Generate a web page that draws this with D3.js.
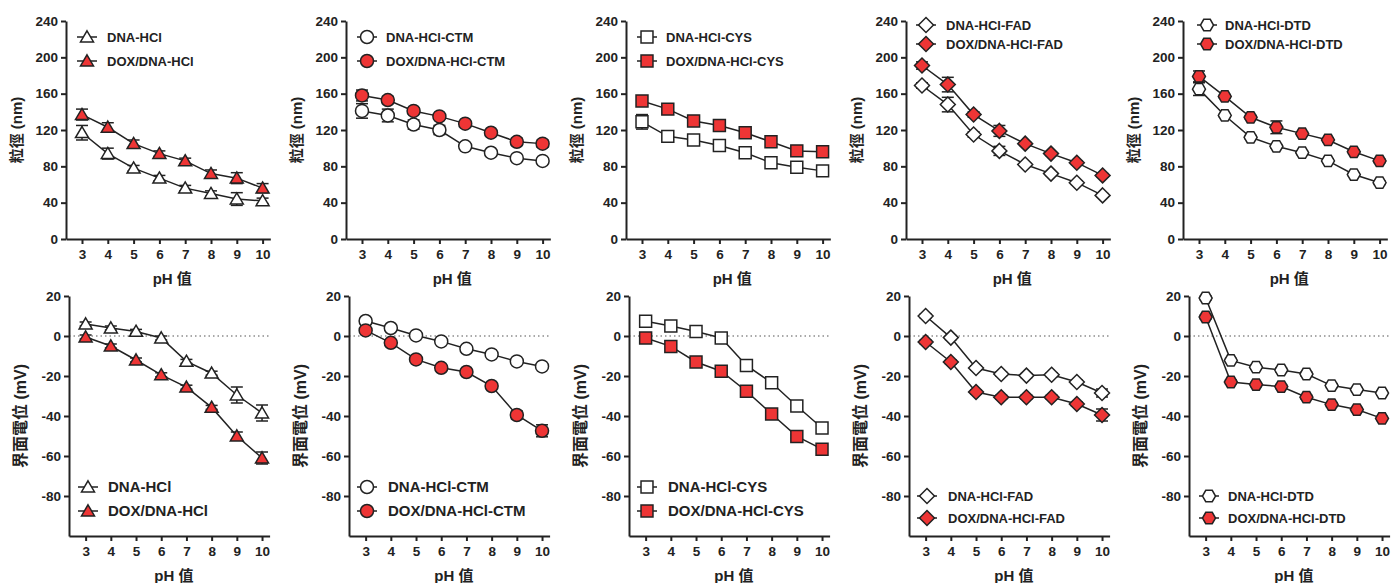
<!DOCTYPE html>
<html>
<head>
<meta charset="utf-8">
<script src="https://cdn.jsdelivr.net/npm/d3@7"></script>
<style>
body { margin: 0; background: #fff; }
svg text { font-family: "Liberation Sans", Arial, "Noto Sans CJK TC", sans-serif; font-weight: bold; fill: #222; }
</style>
</head>
<body>
<script>
var pH = [3, 4, 5, 6, 7, 8, 9, 10];
var sizeTicks = [0, 40, 80, 120, 160, 200, 240];
var zetaTicks = [20, 0, -20, -40, -60, -80];

// particle size (nm), mean and error
var size_HCl       = [117, 94, 78, 67, 56, 50, 44, 42];
var size_HCl_sd    = [8, 6, 3, 3, 3, 3, 7, 3];
var size_DOX_HCl   = [137, 123, 105, 94, 86, 72, 67, 56];
var size_DOX_HCl_sd= [6, 5, 4, 3, 3, 4, 6, 5];
var size_CTM       = [141, 136, 126, 120, 102, 95, 89, 86];
var size_CTM_sd    = [8, 7, 5, 5, 2, 3, 2, 2];
var size_DOX_CTM   = [158, 153, 141, 135, 127, 117, 107, 105];
var size_DOX_CTM_sd= [6, 4, 3, 3, 2, 3, 4, 4];
var size_CYS       = [129, 113, 109, 103, 95, 84, 79, 75];
var size_CYS_sd    = [8, 5, 2, 2, 2, 2, 2, 2];
var size_DOX_CYS   = [152, 143, 130, 125, 117, 107, 97, 96];
var size_DOX_CYS_sd= [4, 2, 2, 2, 2, 2, 4, 3];
var size_FAD       = [169, 148, 115, 97, 82, 72, 62, 48];
var size_FAD_sd    = [3, 8, 3, 5, 2, 2, 2, 2];
var size_DOX_FAD   = [191, 170, 137, 119, 105, 94, 84, 70];
var size_DOX_FAD_sd= [4, 8, 3, 6, 2, 2, 2, 2];
var size_DTD       = [165, 136, 112, 102, 95, 86, 71, 62];
var size_DTD_sd    = [7, 2, 2, 2, 2, 2, 2, 2];
var size_DOX_DTD   = [179, 157, 134, 123, 116, 109, 96, 86];
var size_DOX_DTD_sd= [6, 2, 2, 7, 2, 2, 2, 2];

// zeta potential (mV), mean and error
var zeta_HCl       = [6, 4, 2.3, -1, -12.7, -18.6, -29.5, -38.5];
var zeta_HCl_sd    = [1, 1, 1, 1, 1, 1, 4, 4];
var zeta_DOX_HCl   = [-0.5, -5, -12, -19.4, -25.6, -35.7, -50, -61];
var zeta_DOX_HCl_sd= [1, 1, 1, 1, 1, 1, 2, 3];
var zeta_CTM       = [7.5, 4, 0.3, -2.7, -6.4, -9.2, -12.7, -15.2];
var zeta_CTM_sd    = [1, 1, 1, 1, 1, 1, 1, 1];
var zeta_DOX_CTM   = [2.8, -3.4, -11.7, -15.9, -18, -25, -39.5, -47.4];
var zeta_DOX_CTM_sd= [1, 1, 1, 1, 1, 1, 2, 3];
var zeta_CYS       = [7.4, 5, 2.3, -1, -14.7, -23.4, -35, -46];
var zeta_CYS_sd    = [1, 1, 1, 1, 1, 1, 1, 1];
var zeta_DOX_CYS   = [-1, -5.2, -13, -17.6, -27.6, -39, -50.2, -56.6];
var zeta_DOX_CYS_sd= [1, 1, 1, 1, 1, 1, 1, 1];
var zeta_FAD       = [10, -0.8, -16, -19, -19.8, -19.4, -23, -28.5];
var zeta_FAD_sd    = [1, 1, 1, 1, 1, 1, 1, 2];
var zeta_DOX_FAD   = [-3, -13, -28, -30.6, -30.6, -30.6, -34, -39.5];
var zeta_DOX_FAD_sd= [1, 1, 1, 1, 1, 1, 1, 3];
var zeta_DTD       = [19, -12.2, -15.6, -17, -19, -24.8, -26.8, -28.5];
var zeta_DTD_sd    = [1, 1, 1, 1, 1, 1, 1, 1];
var zeta_DOX_DTD   = [9.5, -23, -24.3, -25.3, -30.6, -34.3, -36.8, -41.2];
var zeta_DOX_DTD_sd= [1, 1, 1, 1, 1, 1, 1, 1];

var labels = [
  ["DNA-HCl", "DOX/DNA-HCl"],
  ["DNA-HCl-CTM", "DOX/DNA-HCl-CTM"],
  ["DNA-HCl-CYS", "DOX/DNA-HCl-CYS"],
  ["DNA-HCl-FAD", "DOX/DNA-HCl-FAD"],
  ["DNA-HCl-DTD", "DOX/DNA-HCl-DTD"]
];
var sizeData = [
  [[size_HCl, size_HCl_sd], [size_DOX_HCl, size_DOX_HCl_sd]],
  [[size_CTM, size_CTM_sd], [size_DOX_CTM, size_DOX_CTM_sd]],
  [[size_CYS, size_CYS_sd], [size_DOX_CYS, size_DOX_CYS_sd]],
  [[size_FAD, size_FAD_sd], [size_DOX_FAD, size_DOX_FAD_sd]],
  [[size_DTD, size_DTD_sd], [size_DOX_DTD, size_DOX_DTD_sd]]
];
var zetaData = [
  [[zeta_HCl, zeta_HCl_sd], [zeta_DOX_HCl, zeta_DOX_HCl_sd]],
  [[zeta_CTM, zeta_CTM_sd], [zeta_DOX_CTM, zeta_DOX_CTM_sd]],
  [[zeta_CYS, zeta_CYS_sd], [zeta_DOX_CYS, zeta_DOX_CYS_sd]],
  [[zeta_FAD, zeta_FAD_sd], [zeta_DOX_FAD, zeta_DOX_FAD_sd]],
  [[zeta_DTD, zeta_DTD_sd], [zeta_DOX_DTD, zeta_DOX_DTD_sd]]
];

var w = 1391, h = 583;
var ink = "#222", red = "#ee3535";
var svg = d3.select("body").append("svg").attr("width", w).attr("height", h);

// marker shapes, r = half width
var shapes = [
  function(r) { return "M0," + (-r * 0.95) + "L" + r + "," + (r * 0.75) + "L" + (-r) + "," + (r * 0.75) + "Z"; },
  function(r) { return "M" + r + ",0A" + r + "," + r + " 0 1,1 " + (-r) + ",0A" + r + "," + r + " 0 1,1 " + r + ",0Z"; },
  function(r) { r = r * 0.92; return "M" + (-r) + "," + (-r) + "H" + r + "V" + r + "H" + (-r) + "Z"; },
  function(r) { r = r * 1.15; return "M0," + (-r) + "L" + r + ",0L0," + r + "L" + (-r) + ",0Z"; },
  function(r) {
    var p = d3.range(6).map(function(i) { var a = Math.PI / 3 * i; return [r * Math.cos(a), r * Math.sin(a)]; });
    return "M" + p.join("L") + "Z";
  }
];

var topX = [66, 346, 626, 906, 1183];
var botX = [69, 349, 629, 909, 1189];
var topLeg = [[87, 107, 37, 61], [367, 386, 37, 61], [647, 666, 37, 61], [926, 946, 25, 44], [1207, 1225, 25, 44]];
var botLeg = [[88, 108, 487, 511, 15], [367, 388, 487, 511, 15], [647, 668, 487, 511, 15], [927, 948, 496, 518, 13], [1209, 1228, 496, 518, 13]];

function panel(k, ax, yTop, yBot, domainY, ticks, series, title, titleSize, pxPerUnit, xStart, zeroLine, leg, legSize) {
  var x = d3.scaleLinear().domain([xStart, 10.3]).range([ax, ax + (10.3 - xStart) * pxPerUnit]);
  var y = d3.scaleLinear().domain(domainY).range([yBot, yTop]);
  var g = svg.append("g");

  if (zeroLine) {
    g.append("line").attr("x1", ax).attr("x2", x.range()[1]).attr("y1", y(0)).attr("y2", y(0))
      .attr("stroke", "#555").attr("stroke-width", 1.2).attr("stroke-dasharray", "1.5,3");
  }

  var yAxis = g.append("g").attr("transform", "translate(" + ax + ",0)")
    .call(d3.axisLeft(y).tickValues(ticks).tickFormat(function(d) { return String(d); })
      .tickSize(5).tickSizeOuter(0).tickPadding(3));
  var xAxis = g.append("g").attr("transform", "translate(0," + yBot + ")")
    .call(d3.axisBottom(x).tickValues(pH).tickFormat(function(d) { return String(d); })
      .tickSize(5).tickSizeOuter(0).tickPadding(5));
  [yAxis, xAxis].forEach(function(a) {
    a.select(".domain").attr("stroke", ink).attr("stroke-width", 2);
    a.selectAll(".tick line").attr("stroke", ink).attr("stroke-width", 2);
    a.selectAll(".tick text").attr("font-size", 13.5).style("fill", ink);
  });

  g.append("text").attr("transform", "translate(" + (ax - 49) + "," + ((yTop + yBot) / 2) + ") rotate(-90)")
    .attr("text-anchor", "middle").attr("dy", "0.35em").attr("font-size", titleSize).text(title);
  g.append("text").attr("x", (x(3) + x(10)) / 2).attr("y", yBot + 45)
    .attr("text-anchor", "middle").attr("font-size", 15).text("pH 值");

  var line = d3.line().x(function(d) { return x(d[0]); }).y(function(d) { return y(d[1]); });
  series.forEach(function(s, j) {
    var pts = pH.map(function(p, i) { return [p, s[0][i], s[1][i]]; });
    var sg = g.append("g");
    sg.append("path").attr("d", line(pts)).attr("fill", "none").attr("stroke", ink).attr("stroke-width", 1.5);
    var eb = sg.selectAll(".eb").data(pts).enter().append("g");
    eb.append("line").attr("x1", function(d) { return x(d[0]); }).attr("x2", function(d) { return x(d[0]); })
      .attr("y1", function(d) { return y(d[1] + d[2]); }).attr("y2", function(d) { return y(d[1] - d[2]); })
      .attr("stroke", ink).attr("stroke-width", 1.5);
    [1, -1].forEach(function(sgn) {
      eb.append("line").attr("x1", function(d) { return x(d[0]) - 6; }).attr("x2", function(d) { return x(d[0]) + 6; })
        .attr("y1", function(d) { return y(d[1] + sgn * d[2]); }).attr("y2", function(d) { return y(d[1] + sgn * d[2]); })
        .attr("stroke", ink).attr("stroke-width", 1.5);
    });
    sg.selectAll(".mk").data(pts).enter().append("path")
      .attr("transform", function(d) { return "translate(" + x(d[0]) + "," + y(d[1]) + ")"; })
      .attr("d", shapes[k](6.5))
      .attr("fill", j === 0 ? "#fff" : red).attr("stroke", ink).attr("stroke-width", 1.5);

    // legend entry
    var ly = leg[2 + j];
    g.append("line").attr("x1", leg[0] - 10).attr("x2", leg[0] + 10).attr("y1", ly).attr("y2", ly)
      .attr("stroke", ink).attr("stroke-width", 1.5);
    g.append("path").attr("transform", "translate(" + leg[0] + "," + ly + ")").attr("d", shapes[k](6.5))
      .attr("fill", j === 0 ? "#fff" : red).attr("stroke", ink).attr("stroke-width", 1.5);
    g.append("text").attr("x", leg[1]).attr("y", ly).attr("dy", "0.35em")
      .attr("font-size", legSize).text(labels[k][j]);
  });
}

for (var k = 0; k < 5; k++) {
  panel(k, topX[k], 21, 239, [0, 240], sizeTicks, sizeData[k], "粒徑 (nm)", 15, 25.8, 2.38, false, topLeg[k], 13);
  panel(k, botX[k], 296, 536, [-100, 20], zetaTicks, zetaData[k], "界面電位 (mV)", 16, 25.2, 2.34, true, botLeg[k], botLeg[k][4]);
}
</script>
</body>
</html>
